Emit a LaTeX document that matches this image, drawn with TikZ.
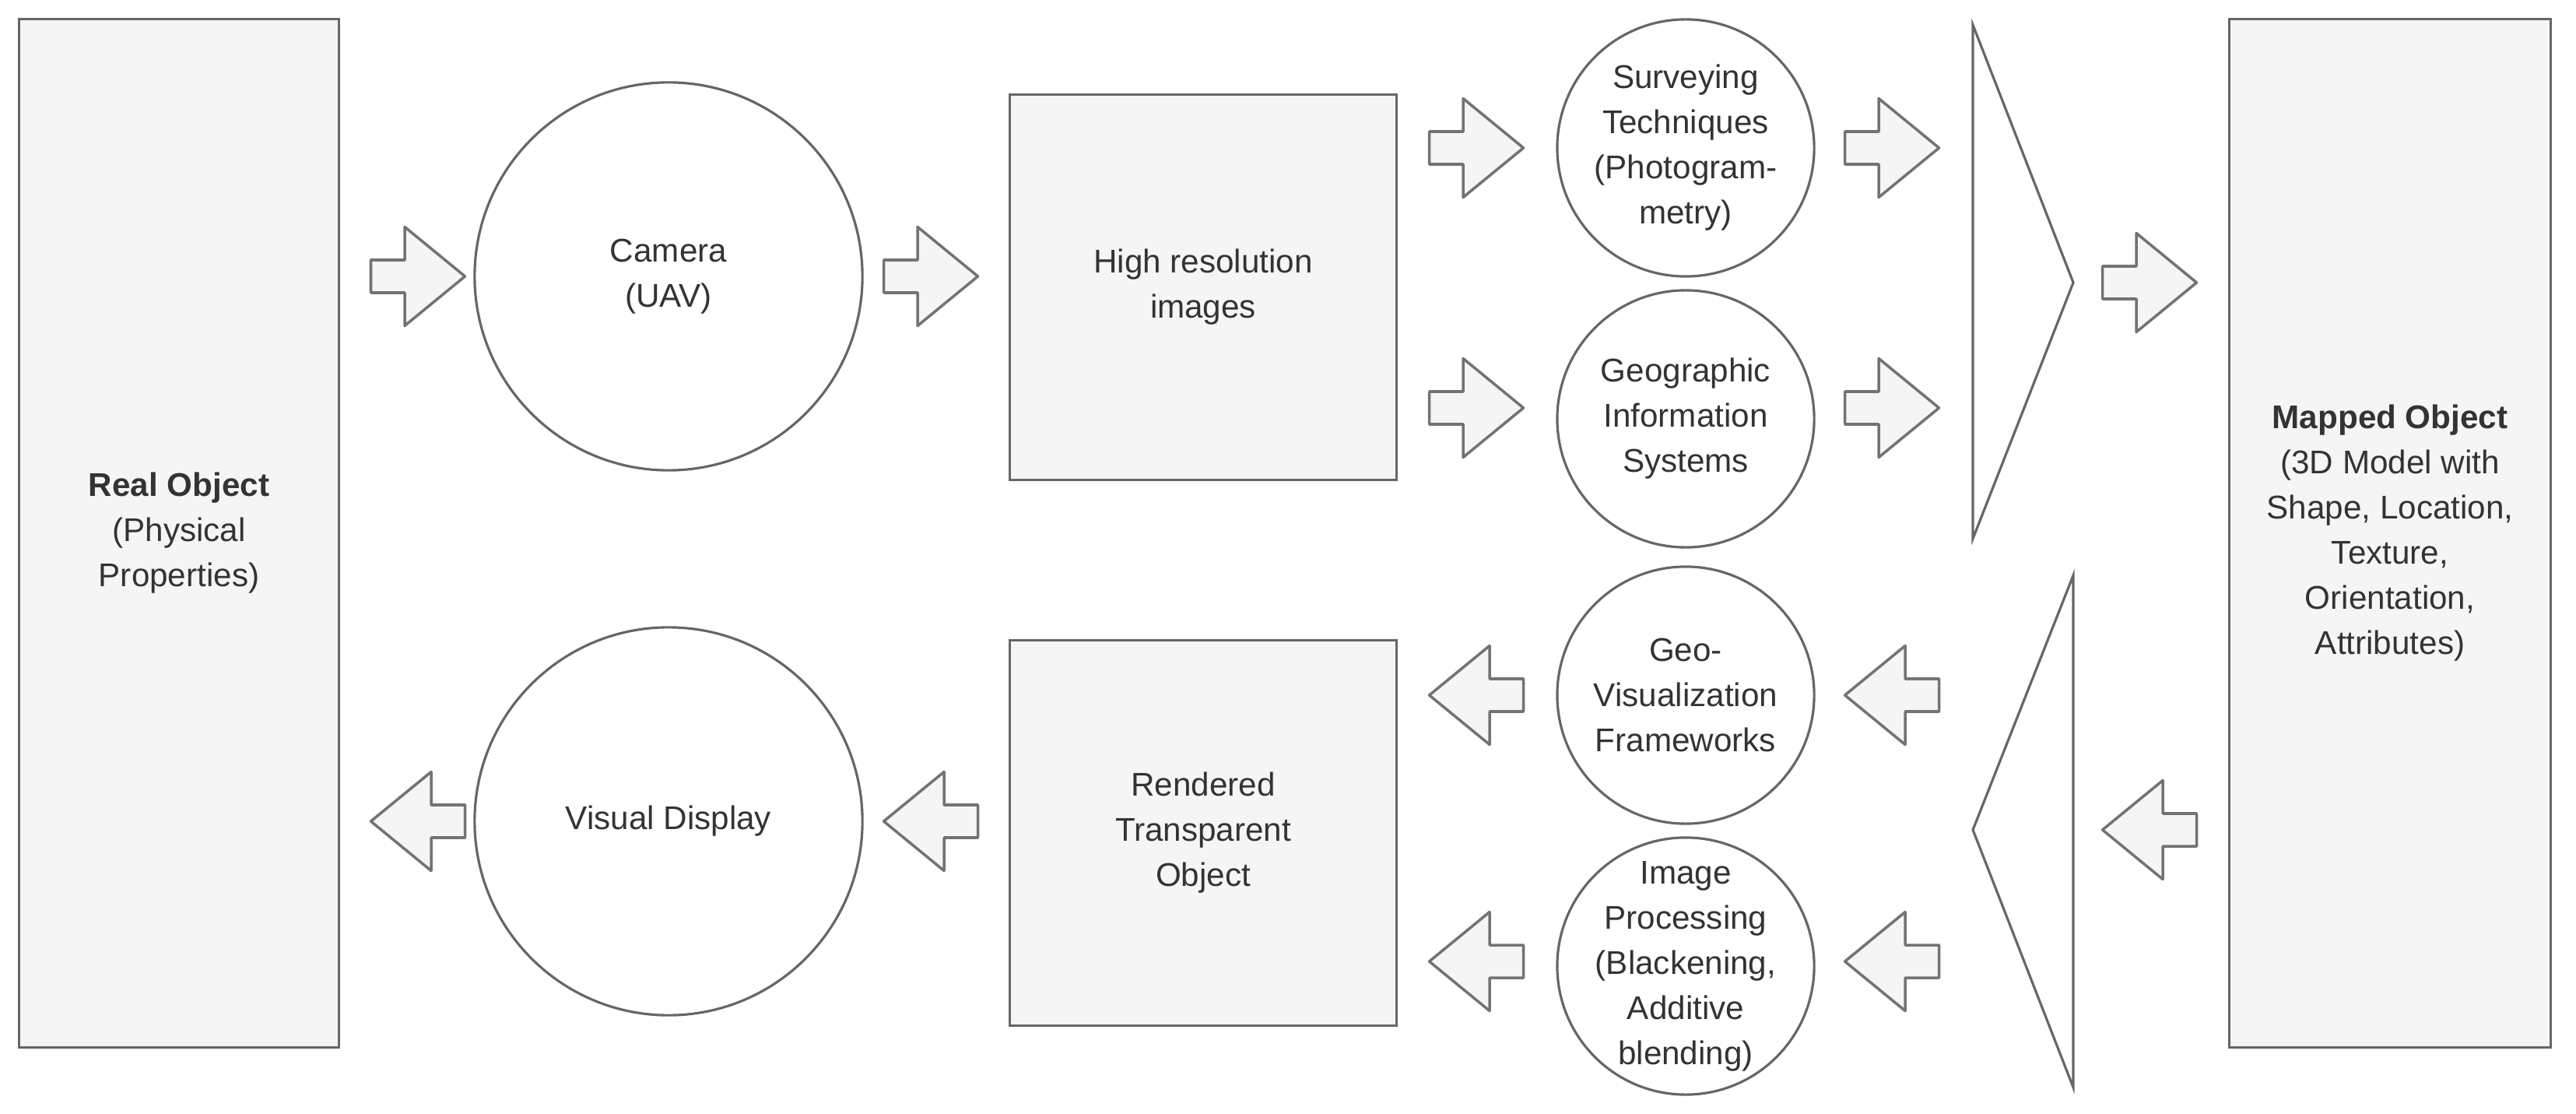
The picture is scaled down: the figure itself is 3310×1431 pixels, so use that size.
\documentclass[tikz,border=0pt]{standalone}
\usepackage{fontspec}
\setmainfont{Liberation Sans}
\begin{document}
\begin{tikzpicture}[x=0.01cm,y=-0.01cm,
  every node/.style={font=\fontsize{12}{16.5}\selectfont, text=black!80, align=center},
  box/.style={draw=black!60, fill=black!4, line width=0.9pt},
  circ/.style={draw=black!60, fill=white, line width=0.9pt, circle, inner sep=0pt},
  pics/rarrow/.style={code={\draw[draw=black!55, fill=black!4, line width=1pt, line join=round]
     (-60.5,-21) -- (-17,-21) -- (-17,-63.5) -- (60.5,0) -- (-17,63.5) -- (-17,21) -- (-60.5,21) -- cycle;}},
]
\useasboundingbox (0,0) rectangle (3310,1431);
% rectangles
\node[box, minimum width=4.1cm, minimum height=13.2cm] (real) at (230,685) {\textbf{Real Object}\\(Physical\\Properties)};
\node[box, minimum width=4.13cm, minimum height=13.2cm] (mapped) at (3071,685) {\textbf{Mapped Object}\\(3D Model with\\Shape, Location,\\Texture,\\Orientation,\\Attributes)};
\node[box, minimum width=4.96cm, minimum height=4.94cm] (hires) at (1546,369) {High resolution\\images};
\node[box, minimum width=4.96cm, minimum height=4.94cm] (rendered) at (1546,1070) {Rendered\\Transparent\\Object};
% circles
\node[circ, minimum size=4.98cm] (camera) at (859,355) {Camera\\(UAV)};
\node[circ, minimum size=4.98cm] (display) at (859,1055) {Visual Display};
\node[circ, minimum size=3.3cm] (survey) at (2166,190) {Surveying\\Techniques\\(Photogram-\\metry)};
\node[circ, minimum size=3.3cm] (gis) at (2166,538) {Geographic\\Information\\Systems};
\node[circ, minimum size=3.3cm] (geovis) at (2166,893) {Geo-\\Visualization\\Frameworks};
\node[circ, minimum size=3.3cm] (imgproc) at (2166,1241) {};
\node (imgproctext) at (imgproc.center) {Image\\Processing\\(Blackening,\\Additive\\blending)};
% triangles
\coordinate (t1a) at (2535,32); \coordinate (t1b) at (2535,692); \coordinate (t1c) at (2664,363);
\draw[draw=black!60, fill=white, line width=0.9pt] (t1a) -- (t1c) -- (t1b) -- cycle;
\coordinate (t2a) at (2664,739); \coordinate (t2b) at (2664,1397); \coordinate (t2c) at (2535,1066);
\draw[draw=black!60, fill=white, line width=0.9pt] (t2a) -- (t2c) -- (t2b) -- cycle;
% arrows
\pic (a1) at (537,355) {rarrow};
\pic (a2) at (1196,355) {rarrow};
\pic (a3) at (1897,190) {rarrow};
\pic (a4) at (1897,524) {rarrow};
\pic (a5) at (2431,190) {rarrow};
\pic (a6) at (2431,524) {rarrow};
\pic (a7) at (2762,363) {rarrow};
\pic[rotate=180] (b1) at (2762,1066) {rarrow};
\pic[rotate=180] (b2) at (2431,893) {rarrow};
\pic[rotate=180] (b3) at (2431,1235) {rarrow};
\pic[rotate=180] (b4) at (1897,893) {rarrow};
\pic[rotate=180] (b5) at (1897,1235) {rarrow};
\pic[rotate=180] (b6) at (1196,1055) {rarrow};
\pic[rotate=180] (b7) at (537,1055) {rarrow};
\end{tikzpicture}
\end{document}
